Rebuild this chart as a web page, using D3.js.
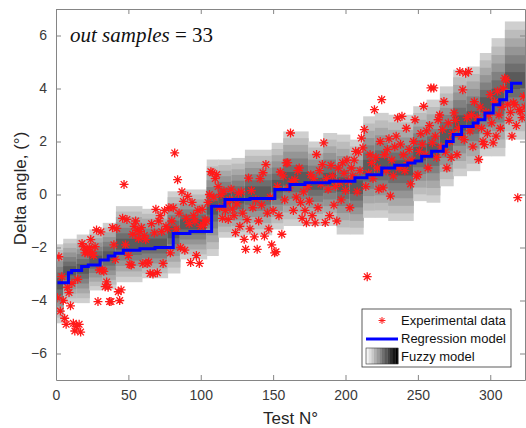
<!DOCTYPE html>
<html lang="en">
<head>
<meta charset="utf-8">
<title>fuzzy regression</title>
<script src="https://cdnjs.cloudflare.com/ajax/libs/d3/7.8.5/d3.min.js"></script>
<style>
  body { margin: 0; background: #fff; }
  text { font-family: "Liberation Sans", Arial, sans-serif; }
</style>
</head>
<body>
<script>
// experimental data, one value per test (Test N = 1..324)
var testVals = [
  -3.9, -2.35, -4.4, -3.1, -4.0, -4.67, -4.9, -3.5, -3.7, -4.2,
  -3.35, -4.86, -5.15, -4.98, -3.2, -4.9, -5.19, -1.85, -1.97, -2.2,
  -2.1, -2.22, -2.0, -1.7, -2.2, -2.3, -1.97, -1.34, -4.04, -2.85,
  -1.41, -2.85, -2.9, -3.48, -3.3, -3.5, -4.04, -4.04, -1.25, -1.9,
  -2.45, -1.28, -3.67, -4.0, -3.6, -0.9, 0.38, -1.9, -0.94, -2.3,
  -2.64, -2.66, -1.5, -1.2, -1.0, -1.35, -1.66, -1.4, -1.25, -2.6,
  -1.55, -1.7, -2.6, -2.55, -2.98, -1.1, -3.0, -1.45, -0.56, -2.95,
  -1.0, -0.8, -1.4, -2.6, -0.6, -1.2, -1.3, -0.5, -2.2, -1.0,
  -0.5, 1.57, -1.3, 0.56, -0.7, -2.0, 0.1, -0.26, -2.1, -0.9,
  -0.07, -1.1, -2.57, -0.3, -0.8, -1.0, -2.3, -0.6, -2.6, -1.2,
  -0.56, -1.15, -0.95, -1.0, -0.3, 0.0, 0.86, 0.82, -0.1, 0.6,
  0.75, 0.3, -0.5, 0.0, -0.9, 0.13, -0.6, -0.3, -0.94, -0.2,
  0.2, -0.55, -0.8, -1.44, -0.35, 0.05, -1.2, 0.1, -0.7, -1.69,
  -2.07, -0.95, 0.62, -1.3, 0.15, -0.5, -1.6, -0.2, -2.07, -1.0,
  0.6, -0.4, 0.82, -1.57, 1.13, -0.7, -1.3, -0.1, -1.9, -0.6,
  -2.2, -2.16, 0.3, -0.8, 0.85, -1.5, 0.7, -0.2, 1.19, 1.2,
  0.25, 2.32, 0.5, -0.6, 0.56, -0.1, 0.9, 1.0, -0.3, -0.9,
  0.1, -0.6, -1.07, 0.3, -0.25, 0.75, -0.8, 0.6, -1.07, 1.51,
  -0.5, 0.9, 0.4, 1.13, 1.95, -1.06, 0.6, 0.2, -0.8, 1.1,
  0.7, -0.4, 0.3, -1.0, 1.0, 0.45, -0.2, 1.2, 0.8, 0.15,
  1.3, 0.5, -0.5, 1.0, 0.7, 1.3, 1.63, 0.1, 1.6, 0.9,
  2.13, 1.76, 2.45, 0.3, -3.1, 0.8, 1.5, 1.2, 0.6, 3.2,
  1.4, 1.0, 0.2, 2.0, 3.58, 0.25, 1.5, 0.9, 1.7, 2.1,
  -0.06, 1.3, 0.7, 1.8, 2.2, 2.89, 1.0, 1.9, 2.95, 1.5,
  0.9, 2.5, 1.2, 1.7, 0.4, 1.3, 2.0, 2.82, 0.69, 0.75,
  1.63, 2.3, 1.9, 3.33, 1.5, 2.4, 1.0, 2.6, 4.02, 1.95,
  4.02, 2.2, 1.4, 2.82, 3.0, 1.8, 2.45, 3.51, 1.6, 1.0,
  2.7, 2.0, 1.4, 2.3, 3.08, 2.8, 1.5, 2.5, 4.64, 2.2,
  3.95, 2.07, 4.58, 2.9, 4.64, 2.4, 3.0, 1.8, 3.5, 2.6,
  2.9, 1.32, 3.3, 2.5, 2.0, 1.88, 3.1, 2.3, 3.0, 3.77,
  2.7, 1.95, 3.5, 2.2, 3.9, 3.0, 2.5, 3.3, 4.0, 4.39,
  4.33, 3.4, 2.8, 3.1, 2.2, 3.46, 3.39, 2.6, -0.12, 3.2,
  3.14, 2.9, 3.7, 3.3
];

// regression model (step function): start test N and level
var stepStart = [1, 8.6, 10.8, 17.7, 22.3, 30.4, 36.1, 40.7, 46.5, 58, 68.4, 81, 92.5,
  107.5, 116.7, 134, 151.2, 161.6, 172, 189, 206.5, 214.8, 225, 234, 243, 248, 252.6,
  259.5, 267.5, 269.8, 274.4, 280.2, 288.2, 291.6, 296.3, 302, 306.6, 311.3, 314.7, 322];
var stepVal = [-3.33, -2.95, -2.87, -2.72, -2.66, -2.47, -2.32, -2.22, -2.10, -2.05, -2.0, -1.47, -1.40,
  -0.44, -0.19, -0.15, 0.19, 0.38, 0.44, 0.50, 0.63, 0.75, 1.0, 1.1, 1.19, 1.26, 1.44,
  1.63, 1.82, 2.0, 2.26, 2.57, 2.7, 2.82, 3.08, 3.39, 3.58, 3.89, 4.2, 4.2];

// fuzzy model blocks: test range and upper / lower bound
var blockStart = [0, 5, 14.3, 23, 32.3, 41.4, 59.4, 77.1, 85.6, 104.1, 112.1, 121.3, 130.5, 149, 157,
  174.2, 184.6, 193.9, 203, 212.2, 220.3, 229.5, 246.8, 256, 265.2, 274.4, 283.6, 292.8, 300.9, 310.1];
var blockEnd = [5, 14.3, 23, 32.3, 41.4, 59.4, 77.1, 85.6, 104.1, 112.1, 121.3, 130.5, 149, 157, 174.2,
  184.6, 193.9, 203, 212.2, 220.3, 229.5, 246.8, 256, 265.2, 274.4, 283.6, 292.8, 300.9, 310.1, 324];
var blockTop = [-1.88, -1.67, -1.51, -1.32, -1.07, -0.44, -0.54, 0.12, 0.19, 1.32, 1.32, 1.38, 1.69, 1.95, 2.38,
  2.0, 2.32, 2.26, 2.07, 2.95, 3.08, 3.01, 3.33, 3.58, 4.08, 4.71, 4.83, 5.34, 5.9, 6.53];
var blockBot = [-4.86, -4.09, -4.1, -3.62, -3.58, -3.31, -3.16, -2.98, -2.45, -2.32, -1.63, -1.62, -1.54, -1.32, -1.19,
  -1.19, -1.19, -1.51, -1.51, -0.88, -0.88, -1.0, -0.25, -0.31, 0.31, 0.69, 0.88, 1.44, 1.44, 2.07];

var xTicks = [0, 50, 100, 150, 200, 250, 300];
var yTicks = [-6, -4, -2, 0, 2, 4, 6];

drawChart();

function drawChart() {
  var W = 526, H = 428;
  var pL = 56, pR = 525, pT = 9, pB = 380;
  var axisCol = "#858585", textCol = "#3a3a3a";

  var svg = d3.select("body").append("svg")
    .attr("width", W).attr("height", H);

  var x = d3.scaleLinear().domain([0, 324]).range([pL, pR]);
  var y = d3.scaleLinear().domain([-7, 7]).range([pB, pT]);

  svg.append("clipPath").attr("id", "clip")
    .append("rect").attr("x", pL).attr("y", pT)
    .attr("width", pR - pL).attr("height", pB - pT);

  var plot = svg.append("g").attr("clip-path", "url(#clip)");

  // fuzzy blocks: nested bands, light outside -> dark in the middle
  var nBands = 7;
  var bandCol = d3.interpolateRgb("#cfcfcf", "#5a5a5a");
  blockStart.forEach(function(s, i) {
    var tp = blockTop[i], bt = blockBot[i];
    var mid = (tp + bt) / 2, half = (tp - bt) / 2;
    for (var k = 0; k < nBands; k++) {
      var h = half * (1 - k / nBands);
      plot.append("rect")
        .attr("x", x(s))
        .attr("width", x(blockEnd[i]) - x(s) + 0.5)
        .attr("y", y(mid + h))
        .attr("height", y(mid - h) - y(mid + h))
        .attr("fill", bandCol(k / (nBands - 1)));
    }
  });

  // asterisk marker
  var star = "M-4.5,0H4.5M0,-4.5V4.5M-3.3,-3.3L3.3,3.3M-3.3,3.3L3.3,-3.3";

  plot.selectAll(".pt")
    .data(testVals)
    .enter()
    .append("path")
    .attr("class", "pt")
    .attr("d", star)
    .attr("transform", function(d, i) { return "translate(" + x(i + 1) + "," + y(d) + ")"; })
    .attr("stroke", "#ff1a1a")
    .attr("stroke-width", 1.3)
    .attr("fill", "none");

  // regression step line
  var steps = stepStart.map(function(s, i) { return [s, stepVal[i]]; });
  var line = d3.line()
    .x(function(d) { return x(d[0]); })
    .y(function(d) { return y(d[1]); })
    .curve(d3.curveStepAfter);

  plot.append("path")
    .datum(steps)
    .attr("d", line)
    .attr("fill", "none")
    .attr("stroke", "#0000ff")
    .attr("stroke-width", 3);

  // axes (box with inward ticks)
  var xAxisB = d3.axisBottom(x).tickValues(xTicks).tickSizeInner(-5).tickSizeOuter(0).tickPadding(10);
  var xAxisT = d3.axisTop(x).tickValues(xTicks).tickSizeInner(-5).tickSizeOuter(0).tickFormat("");
  var yAxisL = d3.axisLeft(y).tickValues(yTicks).tickSizeInner(-5).tickSizeOuter(0).tickPadding(9);
  var yAxisR = d3.axisRight(y).tickValues(yTicks).tickSizeInner(-5).tickSizeOuter(0).tickFormat("");

  function styleAxis(g) {
    g.select(".domain").attr("stroke", axisCol);
    g.selectAll(".tick line").attr("stroke", axisCol);
    g.selectAll(".tick text")
      .attr("fill", textCol)
      .style("font-family", "'Liberation Sans', Arial, sans-serif")
      .style("font-size", "14px");
  }

  svg.append("g").attr("transform", "translate(0," + pB + ")").call(xAxisB).call(styleAxis);
  svg.append("g").attr("transform", "translate(0," + pT + ")").call(xAxisT).call(styleAxis);
  svg.append("g").attr("transform", "translate(" + pL + ",0)").call(yAxisL).call(styleAxis);
  svg.append("g").attr("transform", "translate(" + pR + ",0)").call(yAxisR).call(styleAxis);

  // axis labels
  svg.append("text")
    .attr("x", (pL + pR) / 2)
    .attr("y", 424)
    .attr("text-anchor", "middle")
    .attr("fill", "#262626")
    .style("font-size", "17px")
    .text("Test N°");

  svg.append("text")
    .attr("transform", "translate(26," + ((pT + pB) / 2 - 6) + ") rotate(-90)")
    .attr("text-anchor", "middle")
    .attr("fill", "#262626")
    .style("font-size", "17px")
    .text("Delta angle, (°)");

  // annotation
  var ann = svg.append("text")
    .attr("x", 70)
    .attr("y", 42)
    .attr("fill", "#111")
    .style("font-family", "'Liberation Serif', 'DejaVu Serif', serif")
    .style("font-size", "21px");
  ann.append("tspan").style("font-style", "italic").text("out samples");
  ann.append("tspan").text(" = 33");

  // legend
  var lg = svg.append("g").attr("transform", "translate(362,309)");
  lg.append("rect")
    .attr("width", 149).attr("height", 58)
    .attr("fill", "#fff").attr("stroke", "#333").attr("stroke-width", 0.8);

  var legendNames = ["Experimental data", "Regression model", "Fuzzy model"];
  lg.selectAll(".lt")
    .data(legendNames)
    .enter()
    .append("text")
    .attr("class", "lt")
    .attr("x", 39)
    .attr("y", function(d, i) { return 16 + i * 18; })
    .attr("fill", "#111")
    .style("font-size", "13px")
    .text(function(d) { return d; });

  lg.append("path")
    .attr("d", "M-3.5,0H3.5M0,-3.5V3.5M-2.5,-2.5L2.5,2.5M-2.5,2.5L2.5,-2.5")
    .attr("transform", "translate(20,11.5)")
    .attr("stroke", "#ff1a1a").attr("stroke-width", 1).attr("fill", "none");

  lg.append("line")
    .attr("x1", 4).attr("x2", 36)
    .attr("y1", 30).attr("y2", 30)
    .attr("stroke", "#0000ff").attr("stroke-width", 3);

  var sw = d3.range(12);
  var swCol = d3.interpolateRgb("#f4f4f4", "#000000");
  lg.selectAll(".sw")
    .data(sw)
    .enter()
    .append("rect")
    .attr("class", "sw")
    .attr("x", function(d) { return 4 + d * 32 / sw.length; })
    .attr("y", 39)
    .attr("width", 32 / sw.length + 0.3)
    .attr("height", 16)
    .attr("fill", function(d) { return swCol(d / (sw.length - 1)); });
  lg.append("rect")
    .attr("x", 4).attr("y", 39).attr("width", 32).attr("height", 16)
    .attr("fill", "none").attr("stroke", "#333").attr("stroke-width", 0.6);
}
</script>
</body>
</html>
